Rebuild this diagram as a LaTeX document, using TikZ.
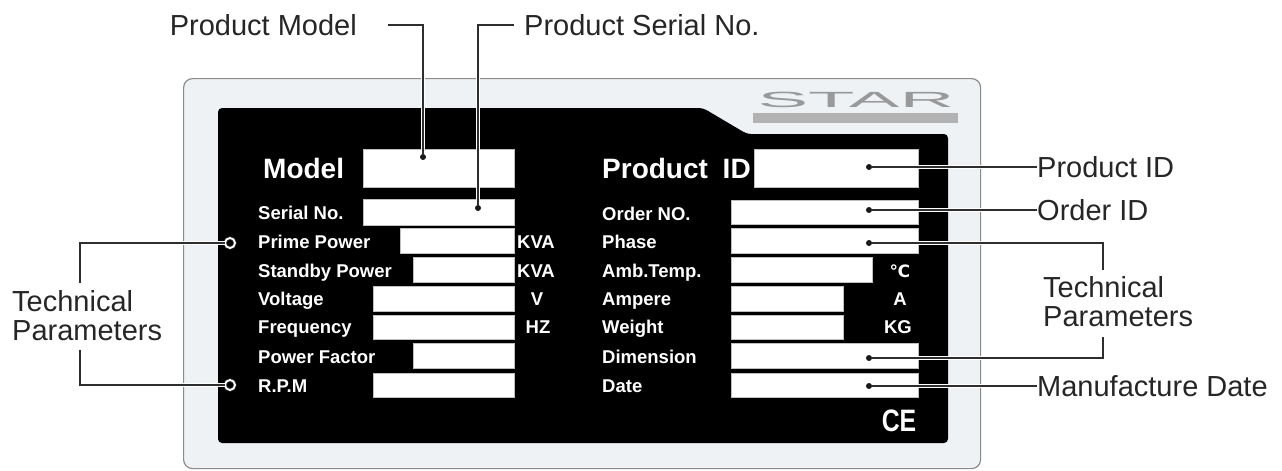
\documentclass[tikz,border=0pt]{standalone}
\usepackage{fontspec}
\setmainfont{Liberation Sans}
\newfontfamily\unitfont{DejaVu Sans}
\usetikzlibrary{positioning,calc}
\definecolor{platebg}{HTML}{EEF2F5}
\definecolor{inkgray}{HTML}{2E2E2E}

\begin{document}
\begin{tikzpicture}[%
    x=1pt,
    y=-1pt,
    plate/.style={%
      rectangle,
      rounded corners=9pt,
      draw=black!45,
      line width=1.2pt,
      fill=platebg,
      inner sep=0pt,
      anchor=north west
    },
    field/.style={%
      rectangle,
      fill=white,
      draw=black!25,
      line width=0.6pt,
      inner sep=0pt,
      anchor=north west
    },
    tag/.style={%
      font=\bfseries\fontsize{18.5}{20}\selectfont,
      text=white,
      inner sep=0pt,
      anchor=west,
      text height=13.2pt,
      text depth=0pt
    },
    bigtag/.style={%
      tag,
      font=\bfseries\fontsize{28}{30}\selectfont,
      text height=20pt
    },
    unit/.style={%
      tag,
      anchor=center
    },
    callout/.style={%
      font=\fontsize{29}{29}\selectfont,
      text=black!85,
      inner sep=0pt,
      text height=20.8pt,
      text depth=0pt
    },
    dot/.style={%
      circle,
      fill=black!90,
      inner sep=0pt,
      minimum size=6pt
    },
    ring/.style={%
      circle,
      draw=inkgray,
      line width=0.8pt,
      double=white,
      double distance=1.8pt,
      inner sep=0pt,
      minimum size=10pt
    },
    leader/.style={%
      draw=inkgray,
      line width=1.4pt,
      preaction={draw=white,line width=4.5pt}
    }
  ]
    \fill[white] (0,0) rectangle (1282,471);
    \useasboundingbox (0,0) rectangle (1282,471);

    % the plate
    \node[plate, minimum width=797pt, minimum height=390pt] (plate) at (183,78) {};
    \fill[black, rounded corners=4pt] (218,108) -- (703,108) -- (747,134)
      -- (948,134) -- (948,443) -- (218,443) -- cycle;

    % logo
    \node[font=\fontsize{22}{22}\selectfont, text=black!40, xscale=3.45,
      inner sep=0pt] (logo) at (856,100) {STAR};
    \fill[black!30] (753,113) rectangle (958,123);

    % left column
    \node[field, minimum width=151pt, minimum height=38pt] (fModel) at (363,149) {};
    \node[field, minimum width=151pt, minimum height=26pt] (fSerial) at (363,199) {};
    \node[field, minimum width=114pt, minimum height=25pt] (fPrime) at (400,228) {};
    \node[field, minimum width=101pt, minimum height=25pt] (fStandby) at (413,257) {};
    \node[field, minimum width=141pt, minimum height=25pt] (fVolt) at (373,286) {};
    \node[field, minimum width=141pt, minimum height=24pt] (fFreq) at (373,315) {};
    \node[field, minimum width=101pt, minimum height=25pt] (fPF) at (413,343) {};
    \node[field, minimum width=141pt, minimum height=24pt] (fRPM) at (373,373) {};

    \node[bigtag] (tModel) at (263,168) {Model};
    \node[tag] (tSerial) at (258,213) {Serial No.};
    \node[tag] (tPrime) at (258,242) {Prime Power};
    \node[tag] (tStandby) at (258,271) {Standby Power};
    \node[tag] (tVolt) at (258,299) {Voltage};
    \node[tag] (tFreq) at (258,327) {Frequency};
    \node[tag] (tPF) at (258,357) {Power Factor};
    \node[tag] (tRPM) at (258,386) {R.P.M};

    \node[unit] (uPrime) at (536,242) {KVA};
    \node[unit] (uStandby) at (536,271) {KVA};
    \node[unit] (uVolt) at (537,299) {V};
    \node[unit] (uFreq) at (538,327) {HZ};

    % right column
    \node[field, minimum width=164pt, minimum height=38pt] (fPID) at (754,149) {};
    \node[field, minimum width=187pt, minimum height=24pt] (fOrder) at (731,200) {};
    \node[field, minimum width=187pt, minimum height=25pt] (fPhase) at (731,228) {};
    \node[field, minimum width=141pt, minimum height=25pt] (fTemp) at (731,257) {};
    \node[field, minimum width=112pt, minimum height=25pt] (fAmp) at (731,286) {};
    \node[field, minimum width=112pt, minimum height=24pt] (fWeight) at (731,315) {};
    \node[field, minimum width=187pt, minimum height=25pt] (fDim) at (731,343) {};
    \node[field, minimum width=187pt, minimum height=24pt] (fDate) at (731,373) {};

    \node[bigtag] (tPID) at (602,168) {Product\hspace{0.25em} ID};
    \node[tag] (tOrder) at (602,214) {Order NO.};
    \node[tag] (tPhase) at (602,242) {Phase};
    \node[tag] (tTemp) at (602,271) {Amb.Temp.};
    \node[tag] (tAmp) at (602,299) {Ampere};
    \node[tag] (tWeight) at (602,327) {Weight};
    \node[tag] (tDim) at (602,357) {Dimension};
    \node[tag] (tDate) at (602,386) {Date};

    \node[unit, font=\unitfont\bfseries\fontsize{17}{18}\selectfont] (uTemp) at (900,271) {℃};
    \node[unit] (uAmp) at (900,299) {A};
    \node[unit] (uWeight) at (898,327) {KG};

    \node[font=\bfseries\fontsize{31}{31}\selectfont, text=white, inner sep=0pt,
      xscale=0.8] (ce) at (899,421) {CE};

    % dots and rings
    \node[dot] (dModel) at (423,157) {};
    \node[dot] (dSerial) at (478,208) {};
    \node[dot] (dPID) at (869,167) {};
    \node[dot] (dOrder) at (869,210) {};
    \node[dot] (dPhase) at (869,243) {};
    \node[dot] (dDim) at (869,358) {};
    \node[dot] (dDate) at (869,386) {};
    \node[ring] (rPrime) at (230,243) {};
    \node[ring] (rRPM) at (230,385) {};

    % labels round the plate
    \node[callout, anchor=east] (lModel) at (357,25) {Product Model};
    \node[callout, anchor=west] (lSerial) at (524,25) {Product Serial No.};
    \node[callout, anchor=west] (lPID) at (1037,167) {Product ID};
    \node[callout, anchor=west] (lOrder) at (1037,210) {Order ID};
    \node[callout, anchor=west] (lDate) at (1037,386) {Manufacture Date};
    \node[callout, anchor=west, align=left, text height=, text depth=] (lTechR)
      at (1043,302) {Technical\\Parameters};
    \node[callout, anchor=west, align=left, text height=, text depth=] (lTechL)
      at (12,316) {Technical\\Parameters};

    \coordinate (kTechRtop) at (1103,270);
    \coordinate (kTechRbot) at (1103,337);
    \coordinate (kTechLtop) at (80,283);
    \coordinate (kTechLbot) at (80,350);

    % leaders
    \draw[leader] (dModel) |- ([xshift=31pt]lModel.east);
    \draw[leader] (dSerial) |- ([xshift=-10pt]lSerial.west);
    \draw[leader] (dPID) -- (dPID -| lPID.west);
    \draw[leader] (dOrder) -- (dOrder -| lOrder.west);
    \draw[leader] (dDate) -- (dDate -| lDate.west);
    \draw[leader] (dPhase) -| (kTechRtop);
    \draw[leader] (dDim) -| (kTechRbot);
    \draw[leader] (rPrime) -| (kTechLtop);
    \draw[leader] (rRPM) -| (kTechLbot);
\end{tikzpicture}
\end{document}
